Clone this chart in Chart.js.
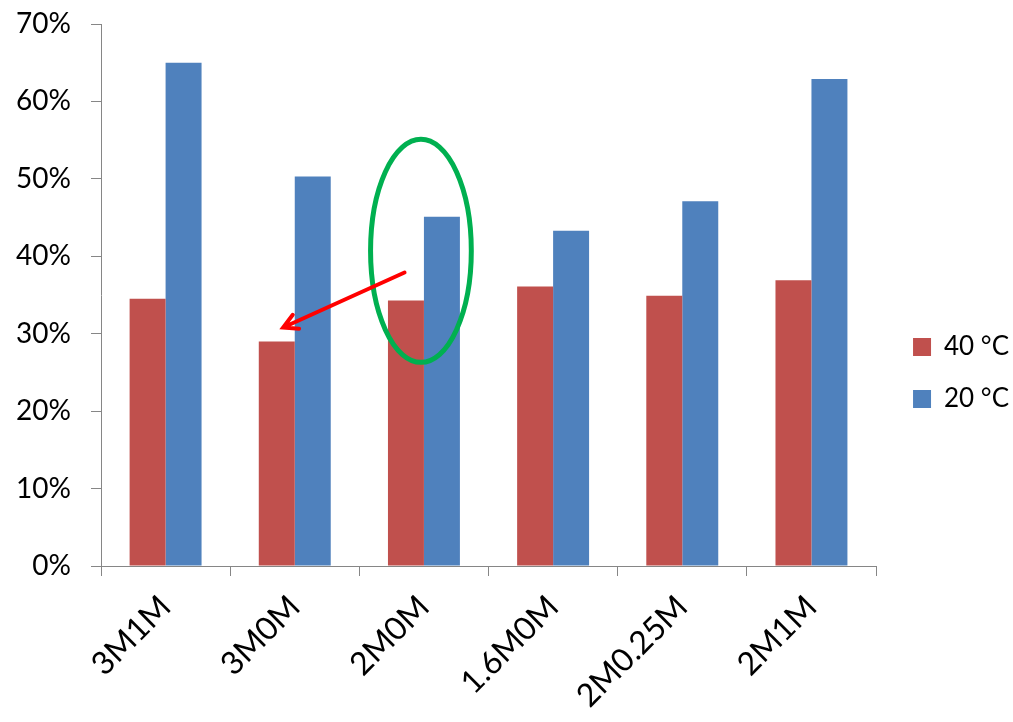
<!DOCTYPE html>
<html>
<head>
<meta charset="utf-8">
<script src="https://cdn.jsdelivr.net/npm/chart.js@4"></script>
<style>
  html, body { margin: 0; padding: 0; background: #fff; }
  #wrap { width: 1013px; height: 722px; }
</style>
</head>
<body>
<div id="wrap"><canvas id="mycanvas" width="1013" height="722"></canvas></div>
<script>
var categories = ['3M1M', '3M0M', '2M0M', '1.6M0M', '2M0.25M', '2M1M'];
var seriesNames = ['40 °C', '20 °C'];
var values40 = [34.5, 29.0, 34.3, 36.1, 34.9, 36.9];
var values20 = [65.0, 50.3, 45.1, 43.3, 47.1, 62.9];
var yTicks = [0, 10, 20, 30, 40, 50, 60, 70];

// hand drawn marks on the original picture (ellipse round 2M0M, arrow to 3M0M)
var annotate = {
	ellipse: { cat: 2, y: 40.7, rx: 0.39, ry: 14.4 },
	arrow: { from: [1.85, 37.9], to: [0.91, 30.8] }
};

var marksPlugin = {
	id: 'marks',
	afterLayout: function(chart) {
		// leave a wider gap between plot and legend, like the original
		chart.legend.left += 11;
		chart.legend.right += 11;
	},
	afterDatasetsDraw: function(chart) {
		var ctx = chart.ctx, xs = chart.scales.x, ys = chart.scales.y;
		var catW = xs.getPixelForValue(1) - xs.getPixelForValue(0);
		var e = annotate.ellipse;
		var cx = xs.getPixelForValue(e.cat);
		var cy = ys.getPixelForValue(e.y);
		var ry = ys.getPixelForValue(e.y - e.ry) - cy;
		ctx.save();
		ctx.strokeStyle = '#00B050';
		ctx.lineWidth = 5;
		ctx.beginPath();
		ctx.ellipse(cx - 3, cy, e.rx * catW, ry, 0, 0, Math.PI * 2);
		ctx.stroke();

		var a = annotate.arrow;
		var x1 = xs.getPixelForValue(0) + a.from[0] * catW, y1 = ys.getPixelForValue(a.from[1]);
		var x2 = xs.getPixelForValue(0) + a.to[0] * catW, y2 = ys.getPixelForValue(a.to[1]);
		var ang = Math.atan2(y2 - y1, x2 - x1);
		ctx.strokeStyle = '#FF0000';
		ctx.lineWidth = 4;
		ctx.lineCap = 'round';
		ctx.beginPath();
		ctx.moveTo(x1, y1);
		ctx.lineTo(x2, y2);
		ctx.moveTo(x2 - 16 * Math.cos(ang - 0.5), y2 - 16 * Math.sin(ang - 0.5));
		ctx.lineTo(x2, y2);
		ctx.lineTo(x2 - 16 * Math.cos(ang + 0.5), y2 - 16 * Math.sin(ang + 0.5));
		ctx.stroke();
		ctx.restore();
	}
};

var chartdata = {
	labels: categories,
	datasets: [
		{
			label: seriesNames[0],
			backgroundColor: '#C0504D',
			data: values40
		},
		{
			label: seriesNames[1],
			backgroundColor: '#4F81BD',
			data: values20
		}
	]
};

var ctx = document.getElementById('mycanvas');

var barGraph = new Chart(ctx, {
	type: 'bar',
	data: chartdata,
	plugins: [marksPlugin],
	options: {
		responsive: false,
		animation: false,
		categoryPercentage: 0.557,
		barPercentage: 1,
		layout: { padding: { top: 24, right: 5, left: 0, bottom: 0 } },
		plugins: {
			tooltip: { enabled: false },
			legend: {
				position: 'right',
				labels: {
					boxWidth: 18,
					boxHeight: 18,
					padding: 26,
					color: '#000',
					font: { family: 'Lato', size: 26 }
				}
			}
		},
		scales: {
			x: {
				grid: { display: true, drawOnChartArea: false, tickLength: 10, color: '#868686' },
				border: { color: '#868686', width: 1 },
				ticks: {
					color: '#000',
					font: { family: 'Lato', size: 32 },
					minRotation: 45,
					maxRotation: 45,
					padding: 12
				},
				afterFit: function(scale) { scale.height = 156; }
			},
			y: {
				min: 0,
				max: 70,
				afterBuildTicks: function(scale) {
					scale.ticks = yTicks.map(function(v) { return { value: v }; });
				},
				grid: { display: true, drawOnChartArea: false, tickLength: 10, color: '#868686' },
				border: { color: '#868686', width: 1 },
				ticks: {
					color: '#000',
					font: { family: 'Lato', size: 28 },
					padding: 20,
					callback: function(v) { return v + '%'; }
				},
				afterFit: function(scale) {
					scale.width = 101;
					scale.paddingTop = 0;
					scale.paddingBottom = 0;
				}
			}
		}
	}
});
</script>
</body>
</html>
